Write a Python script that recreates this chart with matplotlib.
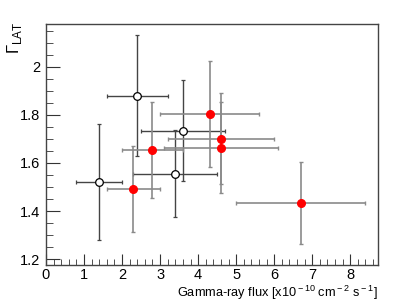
import matplotlib
matplotlib.use("Agg")
import matplotlib.pyplot as plt
from matplotlib.ticker import MultipleLocator

plt.rcParams['font.family'] = ['Liberation Sans', 'DejaVu Sans']
plt.rcParams['mathtext.fontset'] = 'custom'
plt.rcParams['mathtext.rm'] = 'Liberation Sans'

# open circles
open_flux = [1.4, 2.4, 3.4, 3.6]
open_flux_lo = [0.6, 0.8, 1.1, 1.1]
open_flux_hi = [0.6, 0.8, 1.1, 1.1]
open_gamma = [1.52, 1.88, 1.555, 1.733]
open_gamma_lo = [0.24, 0.25, 0.18, 0.21]
open_gamma_hi = [0.24, 0.25, 0.18, 0.21]

# red filled points
red_flux = [2.3, 2.8, 4.3, 4.6, 4.6, 6.7]
red_flux_lo = [0.7, 0.8, 1.3, 1.4, 1.5, 1.7]
red_flux_hi = [0.7, 0.8, 1.3, 1.4, 1.5, 1.7]
red_gamma = [1.492, 1.653, 1.805, 1.701, 1.663, 1.435]
red_gamma_lo = [0.18, 0.2, 0.22, 0.19, 0.19, 0.17]
red_gamma_hi = [0.18, 0.2, 0.22, 0.19, 0.19, 0.17]

fig = plt.figure(figsize=(4.15, 3.02), dpi=100)
ax = fig.add_axes([46/415, 37/302, 332/415, 241/302])

ax.errorbar(open_flux, open_gamma, xerr=[open_flux_lo, open_flux_hi],
            yerr=[open_gamma_lo, open_gamma_hi], fmt='o', color='#444444',
            mfc='white', mec='black', ms=5.5, mew=0.9, elinewidth=1.0,
            capsize=1.5, capthick=1.0, zorder=3)
ax.errorbar(red_flux, red_gamma, xerr=[red_flux_lo, red_flux_hi],
            yerr=[red_gamma_lo, red_gamma_hi], fmt='o', color='#8a8a8a',
            mfc='red', mec='red', ms=5.5, elinewidth=1.2,
            capsize=1.5, capthick=1.0, zorder=4)

ax.set_xlim(0, 8.73)
ax.set_ylim(1.176, 2.177)
ax.xaxis.set_major_locator(MultipleLocator(1))
ax.xaxis.set_minor_locator(MultipleLocator(0.2))
ax.yaxis.set_major_locator(MultipleLocator(0.2))
ax.yaxis.set_minor_locator(MultipleLocator(0.05))
ax.tick_params(which='both', direction='in', top=False, right=False,
               labelsize=10.5, color='#333333')
ax.tick_params(axis='x', which='major', length=8, pad=2)
ax.tick_params(axis='x', which='minor', length=4)
ax.tick_params(axis='y', which='major', length=10, pad=4)
ax.tick_params(axis='y', which='minor', length=5)
ax.set_yticks([1.2, 1.4, 1.6, 1.8, 2.0])
ax.set_yticklabels(['1.2', '1.4', '1.6', '1.8', '2'])
for s in ax.spines.values():
    s.set_color('#444444')
    s.set_linewidth(1.0)

fig.text(378/415, 1 - 293/302,
         r'Gamma-ray flux [x10$^{\rm -10}$ cm$^{\rm -2}$ s$^{\rm -1}$]',
         fontsize=9.2, ha='right', va='center')
fig.text(14/415, 1 - 38/302, r'$\Gamma_{\rm LAT}$', rotation=90,
         fontsize=12, ha='center', va='center')

fig.savefig('out.png', dpi=100)
